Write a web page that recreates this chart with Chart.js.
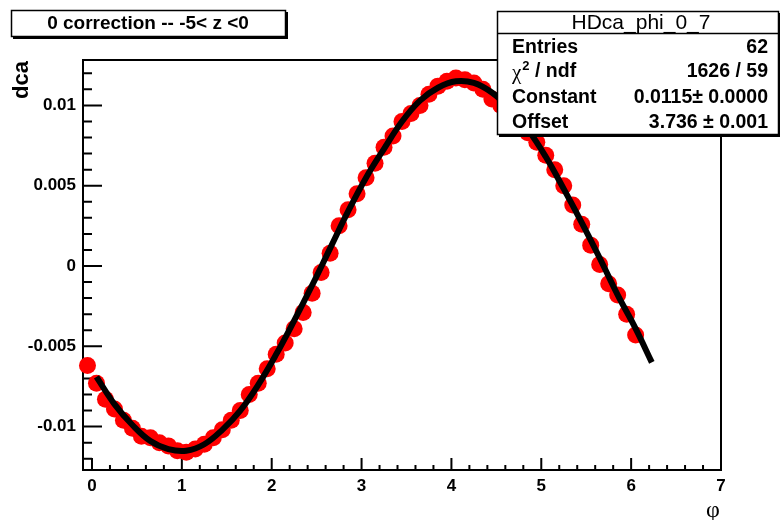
<!DOCTYPE html>
<html>
<head>
<meta charset="utf-8">
<script src="https://cdn.jsdelivr.net/npm/chart.js@4.4.0/dist/chart.umd.min.js"></script>
<style>
  html, body { margin: 0; padding: 0; background: #fff; }
  #wrap { width: 780px; height: 520px; }
</style>
</head>
<body>
<div id="wrap"><canvas id="dcaChart" width="780" height="520"></canvas></div>
<script>
// Histogram bins (phi) and mean dca per bin
const phiBins = [
  -0.05, 0.05, 0.15, 0.25, 0.35, 0.45, 0.55, 0.65, 0.75, 0.85, 0.95,
  1.05, 1.15, 1.25, 1.35, 1.45, 1.55, 1.65, 1.75, 1.85, 1.95,
  2.05, 2.15, 2.25, 2.35, 2.45, 2.55, 2.65, 2.75, 2.85, 2.95,
  3.05, 3.15, 3.25, 3.35, 3.45, 3.55, 3.65, 3.75, 3.85, 3.95,
  4.05, 4.15, 4.25, 4.35, 4.45, 4.55, 4.65, 4.75, 4.85, 4.95,
  5.05, 5.15, 5.25, 5.35, 5.45, 5.55, 5.65, 5.75, 5.85, 5.95,
  6.05
];
const dcaValues = [
  -0.0062, -0.0073, -0.0083, -0.0089, -0.0096, -0.0101, -0.0106, -0.0107, -0.0110, -0.0112, -0.0115,
  -0.0116, -0.0114, -0.0111, -0.0107, -0.0102, -0.0096, -0.0090, -0.0080, -0.0073, -0.0064,
  -0.0055, -0.0048, -0.0039, -0.0029, -0.0017, -0.0004, 0.0008, 0.0025, 0.0035, 0.0045,
  0.0055, 0.0064, 0.0074, 0.0081, 0.0090, 0.0095, 0.0100, 0.0107, 0.0112, 0.0115,
  0.0117, 0.0116, 0.0114, 0.0110, 0.0104, 0.0100, 0.0095, 0.0089, 0.0083, 0.0077,
  0.0069, 0.0060, 0.0050, 0.0038, 0.0026, 0.0013, 0.0001, -0.0011, -0.0018, -0.0030,
  -0.0043
];

// Fitted curve
const fitPhi = [
  0.05, 0.25, 0.45, 0.65, 0.85, 1.05, 1.25, 1.45, 1.65, 1.85, 2.05,
  2.25, 2.45, 2.65, 2.85, 3.05, 3.25, 3.45, 3.65, 3.85, 4.05,
  4.25, 4.45, 4.65, 4.85, 5.05, 5.25, 5.45, 5.65, 5.85, 6.05, 6.23
];
const fitDca = [
  -0.0069, -0.0086, -0.0099, -0.0109, -0.0114, -0.0115, -0.0111, -0.0102, -0.0090, -0.0074, -0.0055,
  -0.0034, -0.0012, 0.0011, 0.0034, 0.0055, 0.0073, 0.0090, 0.0103, 0.0111, 0.0115,
  0.0114, 0.0108, 0.0098, 0.0085, 0.0068, 0.0048, 0.0027, 0.0005, -0.0018, -0.0039, -0.0060
];

// Axis labels
const xTickValues = [0, 1, 2, 3, 4, 5, 6, 7];
const yTickValues = [-0.01, -0.005, 0, 0.005, 0.01];

// Texts
const titleText = '0 correction -- -5< z <0';
const statsName = 'HDca_phi_0_7';
const statsRows = [
  ['Entries', '62'],
  ['chi2', '1626 / 59'],
  ['Constant', '0.0115\u00b1 0.0000'],
  ['Offset', '3.736 \u00b1 0.001']
];

const labelFont = 'Liberation Sans, Arial, sans-serif';

// Frame and ROOT style inward ticks
const rootFrame = {
  id: 'rootFrame',
  beforeDatasetsDraw(chart) {
    const { ctx, chartArea: a, scales: { x, y } } = chart;
    ctx.save();
    ctx.strokeStyle = '#000';
    ctx.lineWidth = 2;
    ctx.strokeRect(a.left, a.top, a.right - a.left, a.bottom - a.top);
    ctx.beginPath();
    for (let i = 0; i <= 35; i++) {
      const px = x.getPixelForValue(i * 0.2);
      const len = i % 5 === 0 ? 12 : 5;
      ctx.moveTo(px, a.bottom);
      ctx.lineTo(px, a.bottom - len);
    }
    for (let i = -12; i <= 12; i++) {
      const py = y.getPixelForValue(i * 0.001);
      const len = i % 5 === 0 ? 19 : 9;
      ctx.moveTo(a.left, py);
      ctx.lineTo(a.left + len, py);
    }
    ctx.stroke();
    ctx.restore();
  },
  afterDraw(chart) {
    const { ctx, chartArea: a } = chart;
    ctx.save();
    ctx.fillStyle = '#000';

    // axis titles
    ctx.font = 'bold 22px ' + labelFont;
    ctx.save();
    ctx.translate(28, a.top + 1);
    ctx.rotate(-Math.PI / 2);
    ctx.textAlign = 'right';
    ctx.textBaseline = 'alphabetic';
    ctx.fillText('dca', 0, 0);
    ctx.restore();

    ctx.font = '24px Liberation Serif, serif';
    ctx.textAlign = 'center';
    ctx.textBaseline = 'middle';
    ctx.fillText('\u03c6', 713, 511);

    // title box
    ctx.fillStyle = '#000';
    ctx.fillRect(13, 12, 275, 27);
    ctx.fillStyle = '#fff';
    ctx.fillRect(11, 10, 275, 27);
    ctx.strokeStyle = '#000';
    ctx.lineWidth = 1.5;
    ctx.strokeRect(11.5, 10.5, 274, 26);
    ctx.fillStyle = '#000';
    ctx.font = 'bold 19px ' + labelFont;
    ctx.fillText(titleText, 148, 24);

    // stats box
    const bx = 497, by = 11, bw = 282, bh = 124;
    ctx.fillStyle = '#000';
    ctx.fillRect(bx + 2, by + 2, bw, bh);
    ctx.fillStyle = '#fff';
    ctx.fillRect(bx, by, bw, bh);
    ctx.strokeRect(bx + 0.5, by + 0.5, bw - 1, bh - 1);
    ctx.beginPath();
    ctx.moveTo(bx, 33.5);
    ctx.lineTo(bx + bw, 33.5);
    ctx.stroke();

    ctx.fillStyle = '#000';
    ctx.font = '21px ' + labelFont;
    ctx.textAlign = 'center';
    ctx.fillText(statsName, 641, 23);

    const rowY = [48, 72, 98, 123];
    const rowFont = 'bold 19.5px ' + labelFont;
    ctx.font = rowFont;
    statsRows.forEach((row, i) => {
      ctx.textAlign = 'left';
      if (row[0] === 'chi2') {
        ctx.font = '21px Liberation Serif, serif';
        ctx.fillText('\u03c7', 512, rowY[i] + 1);
        let w = ctx.measureText('\u03c7').width;
        ctx.font = 'bold 13px ' + labelFont;
        ctx.fillText('2', 512 + w + 1, rowY[i] - 6);
        w += ctx.measureText('2').width + 1;
        ctx.font = rowFont;
        ctx.fillText(' / ndf', 512 + w, rowY[i]);
      } else {
        ctx.fillText(row[0], 512, rowY[i]);
      }
      ctx.textAlign = 'right';
      ctx.fillText(row[1], 768, rowY[i]);
    });
    ctx.restore();
  }
};

const tickFont = { family: labelFont, weight: 'bold', size: 17 };

new Chart(document.getElementById('dcaChart'), {
  type: 'scatter',
  data: {
    datasets: [
      {
        label: 'fit',
        type: 'line',
        data: fitPhi.map((p, i) => ({ x: p, y: fitDca[i] })),
        borderColor: '#000',
        borderWidth: 6,
        pointRadius: 0,
        tension: 0.4,
        fill: false,
        order: 0
      },
      {
        label: 'HDca_phi_0_7',
        data: phiBins.map((p, i) => ({ x: p, y: dcaValues[i] })),
        backgroundColor: '#ff0000',
        borderWidth: 0,
        pointRadius: 8.5,
        clip: false,
        order: 1
      }
    ]
  },
  options: {
    responsive: false,
    animation: false,
    devicePixelRatio: 1,
    layout: { padding: { top: 60, right: 59, bottom: 0, left: 0 } },
    plugins: {
      legend: { display: false },
      tooltip: { enabled: false }
    },
    scales: {
      x: {
        type: 'linear',
        min: -0.1,
        max: 7,
        afterFit(s) { s.height = 50; },
        afterBuildTicks(s) { s.ticks = xTickValues.map(v => ({ value: v })); },
        grid: { display: false, drawTicks: false },
        border: { display: false },
        ticks: {
          padding: 6,
          color: '#000',
          font: tickFont,
          maxRotation: 0,
          autoSkip: false,
          callback: v => String(v)
        }
      },
      y: {
        type: 'linear',
        min: -0.012702,
        max: 0.012827,
        afterFit(s) { s.width = 83; },
        afterBuildTicks(s) { s.ticks = yTickValues.map(v => ({ value: v })); },
        grid: { display: false, drawTicks: false },
        border: { display: false },
        ticks: {
          padding: 7,
          color: '#000',
          font: tickFont,
          autoSkip: false,
          callback: v => String(v)
        }
      }
    }
  },
  plugins: [rootFrame]
});
</script>
</body>
</html>
